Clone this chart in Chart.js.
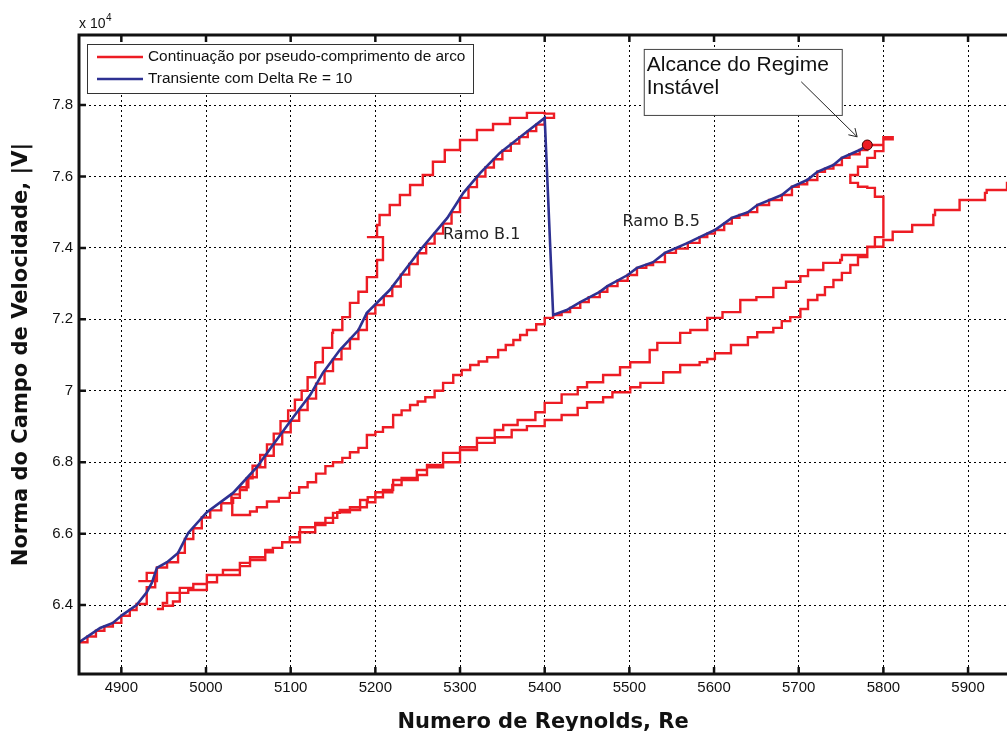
<!DOCTYPE html>
<html><head><meta charset="utf-8">
<script src="https://cdn.jsdelivr.net/npm/chart.js@4.4.0/dist/chart.umd.min.js"></script>
<style>html,body{margin:0;padding:0;background:#fff;}canvas{display:block;}</style>
</head><body>
<canvas id="c" width="1007" height="731"></canvas>
<script>
// ---------- DATA (Re, |V| x 10^4) ----------
const xTicks = [4900,5000,5100,5200,5300,5400,5500,5600,5700,5800,5900];
const yTicks = [6.4,6.6,6.8,7.0,7.2,7.4,7.6,7.8];

// red continuation curve, in path order
const redRamoB1 = [[4850,6.296],[4860,6.312],[4870,6.328],[4880,6.340],[4890,6.350],[4900,6.370],[4910,6.386],[4918,6.403],[4930,6.450],[4940,6.490],[4930,6.490],[4930,6.467],[4920,6.467],[4942,6.505],[4954,6.520],[4967,6.546],[4975,6.585],[4985,6.615],[4995,6.645],[5005,6.665],[5018,6.685],[5030,6.710],[5040,6.730],[5050,6.758],[5060,6.786],[5070,6.818],[5080,6.850],[5090,6.884],[5100,6.916],[5110,6.946],[5120,6.978],[5130,7.020],[5140,7.055],[5150,7.088],[5160,7.118],[5170,7.145],[5180,7.170],[5190,7.216],[5200,7.240],[5210,7.265],[5220,7.292],[5230,7.325],[5240,7.355],[5250,7.385],[5260,7.412],[5270,7.440],[5280,7.468],[5290,7.500],[5300,7.540],[5310,7.570],[5320,7.600],[5330,7.625],[5340,7.648],[5350,7.672],[5360,7.692],[5370,7.710],[5380,7.727],[5390,7.745],[5400,7.764]];
const redTurnB1 = [[5411,7.776],[5400,7.778]];
const redUpper = [[5379,7.764],[5359,7.747],[5339,7.730],[5320,7.702],[5300,7.674],[5282,7.641],[5268,7.604],[5256,7.576],[5241,7.548],[5229,7.520],[5217,7.492],[5205,7.464],[5202,7.430],[5190,7.430],[5209,7.400],[5209,7.366],[5202,7.358],[5202,7.318],[5190,7.310],[5190,7.277],[5180,7.274],[5180,7.246],[5170,7.234],[5170,7.206],[5161,7.192],[5161,7.170],[5150,7.162],[5149,7.120],[5138,7.114],[5138,7.080],[5130,7.078],[5129,7.038],[5120,7.000],[5113,6.975],[5105,6.945],[5097,6.915],[5088,6.880],[5080,6.850],[5072,6.820],[5064,6.790],[5055,6.755],[5048,6.722],[5040,6.700],[5032,6.686],[5031,6.652]];
const redMiddle = [[5050,6.652],[5052,6.662],[5060,6.674],[5072,6.690],[5086,6.700],[5099,6.714],[5110,6.730],[5120,6.744],[5130,6.768],[5141,6.789],[5150,6.800],[5161,6.812],[5170,6.828],[5180,6.840],[5190,6.876],[5200,6.885],[5209,6.898],[5221,6.932],[5231,6.945],[5241,6.960],[5250,6.970],[5259,6.982],[5270,7.000],[5280,7.022],[5292,7.044],[5302,7.058],[5312,7.072],[5322,7.082],[5332,7.094],[5345,7.114],[5354,7.128],[5363,7.142],[5371,7.156],[5379,7.170],[5390,7.186],[5400,7.204]];
const redRamoB5 = [[5410,7.212],[5420,7.220],[5430,7.232],[5442,7.248],[5452,7.262],[5465,7.277],[5474,7.293],[5486,7.308],[5498,7.324],[5509,7.344],[5520,7.352],[5528,7.360],[5542,7.386],[5555,7.398],[5569,7.414],[5583,7.430],[5592,7.440],[5601,7.450],[5612,7.468],[5621,7.484],[5630,7.492],[5640,7.500],[5651,7.520],[5665,7.534],[5680,7.548],[5692,7.571],[5700,7.578],[5710,7.590],[5722,7.613],[5731,7.622],[5741,7.632],[5751,7.652],[5760,7.662],[5772,7.674],[5781,7.688]];
const redTurnB5 = [[5800,7.702],[5800,7.710],[5811,7.710],[5811,7.704],[5800,7.694],[5800,7.671],[5790,7.669],[5790,7.652],[5781,7.649],[5781,7.627],[5770,7.624],[5770,7.604],[5761,7.599],[5761,7.582],[5769,7.582],[5770,7.571],[5781,7.568],[5790,7.543],[5800,7.534],[5800,7.430]];
const redLowerBack = [[5790,7.402],[5781,7.374],[5770,7.352],[5761,7.330],[5751,7.310],[5741,7.290],[5731,7.268],[5722,7.254],[5711,7.229],[5702,7.206],[5690,7.195],[5680,7.176],[5670,7.164],[5651,7.150],[5640,7.128],[5620,7.105],[5601,7.089],[5592,7.080],[5583,7.072],[5560,7.052],[5540,7.022],[5513,7.010],[5501,6.996],[5480,6.982],[5469,6.968],[5450,6.952],[5439,6.932],[5420,6.918],[5400,6.901],[5379,6.890],[5361,6.870],[5341,6.854],[5320,6.834],[5300,6.800],[5280,6.786],[5261,6.764],[5250,6.750],[5221,6.722],[5209,6.702],[5200,6.688],[5190,6.674],[5170,6.660],[5155,6.644],[5141,6.624],[5129,6.604],[5110,6.590],[5099,6.576],[5090,6.560],[5079,6.554],[5070,6.534],[5052,6.509],[5040,6.498],[5020,6.484],[5001,6.459],[4985,6.448],[4969,6.434],[4954,6.406],[4949,6.389],[4942,6.389]];
const redLowerFwd = [[4949,6.398],[4961,6.410],[4969,6.434],[4979,6.442],[5001,6.464],[5013,6.484],[5040,6.518],[5052,6.526],[5070,6.548],[5079,6.560],[5090,6.576],[5111,6.604],[5111,6.618],[5129,6.630],[5150,6.658],[5158,6.666],[5182,6.694],[5191,6.702],[5200,6.716],[5220,6.736],[5231,6.756],[5249,6.778],[5261,6.792],[5280,6.826],[5300,6.842],[5320,6.868],[5341,6.890],[5351,6.904],[5368,6.918],[5389,6.940],[5400,6.966],[5420,6.990],[5439,7.010],[5450,7.024],[5469,7.044],[5489,7.066],[5501,7.080],[5524,7.114],[5533,7.134],[5560,7.162],[5572,7.170],[5592,7.204],[5610,7.220],[5631,7.254],[5650,7.262],[5670,7.288],[5685,7.305],[5702,7.321],[5711,7.338],[5729,7.358],[5749,7.366],[5751,7.380],[5781,7.403],[5800,7.422],[5811,7.445],[5822,7.445],[5834,7.464],[5859,7.492],[5861,7.506],[5890,7.534],[5920,7.554],[5922,7.562],[5946,7.585]];

// blue transient curve
const blueRamoB1 = [[4850,6.296],[4859,6.310],[4875,6.336],[4890,6.350],[4901,6.372],[4918,6.400],[4930,6.436],[4936,6.462],[4942,6.504],[4954,6.520],[4967,6.546],[4979,6.602],[5001,6.660],[5032,6.714],[5060,6.786],[5079,6.848],[5103,6.926],[5123,6.988],[5138,7.050],[5158,7.114],[5180,7.170],[5190,7.218],[5217,7.282],[5253,7.394],[5285,7.484],[5304,7.554],[5324,7.610],[5347,7.666],[5379,7.725],[5400,7.764]];
const blueRamoB5 = [[5410,7.212],[5426,7.226],[5442,7.248],[5465,7.277],[5474,7.293],[5498,7.324],[5509,7.344],[5528,7.360],[5542,7.386],[5569,7.414],[5583,7.430],[5601,7.450],[5621,7.484],[5640,7.500],[5651,7.520],[5680,7.548],[5692,7.571],[5710,7.590],[5722,7.613],[5741,7.632],[5751,7.652],[5772,7.674],[5781,7.688]];

const limitPoint = [5781, 7.688];

const seriesNames = ['Continuação por pseudo-comprimento de arco', 'Transiente com Delta Re = 10'];
const annotationText = ['Alcance do Regime', 'Instável'];
const branchLabels = [{text:'Ramo B.1', re:5280, v:7.436}, {text:'Ramo B.5', re:5492, v:7.473}];
const arrowFrom = [5703, 7.865], arrowTo = [5769, 7.711];
const boxAnchor = [5517, 7.957];

const xLimits = [4850, 5946];
const yLimits = [6.207, 7.996];

// ---------- build ----------
const toPts = a => a.map(p => ({x:p[0], y:p[1]}));
const redPath = [].concat(redRamoB1, redTurnB1, redUpper, redMiddle, redRamoB5, redTurnB5, redLowerBack, redLowerFwd);
const bluePath = [].concat(blueRamoB1, blueRamoB5);

const RED = 'rgb(237,28,36)', BLUE = 'rgb(46,49,146)';
const FONT = "'Liberation Sans', Arial, sans-serif";
const TITLE_FONT = "'DejaVu Sans', 'Liberation Sans', sans-serif";

const overlayPlugin = {
  id: 'overlay',
  afterDatasetsDraw(chart) {
    const {ctx, chartArea: ca, scales: {x, y}} = chart;
    ctx.save();
    // legend box
    const lx = ca.left + 8, ly = ca.top + 9, lw = 386, lh = 49;
    ctx.fillStyle = '#fff'; ctx.fillRect(lx, ly, lw, lh);
    ctx.strokeStyle = '#333'; ctx.lineWidth = 1; ctx.strokeRect(lx + 0.5, ly + 0.5, lw, lh);
    const cols = [RED, BLUE];
    ctx.font = '15.4px ' + FONT; ctx.textBaseline = 'middle'; ctx.textAlign = 'left';
    seriesNames.forEach((n, i) => {
      const yy = ly + 13 + i * 22;
      ctx.strokeStyle = cols[i]; ctx.lineWidth = 2.5;
      ctx.beginPath(); ctx.moveTo(lx + 10, yy); ctx.lineTo(lx + 56, yy); ctx.stroke();
      ctx.fillStyle = '#111'; ctx.fillText(n, lx + 61, yy);
    });
    // branch labels
    ctx.font = '16px "DejaVu Sans", sans-serif'; ctx.fillStyle = '#222';
    branchLabels.forEach(b => ctx.fillText(b.text, x.getPixelForValue(b.re), y.getPixelForValue(b.v)));
    // annotation box
    const bx = x.getPixelForValue(boxAnchor[0]), by = y.getPixelForValue(boxAnchor[1]);
    ctx.fillStyle = '#fff'; ctx.fillRect(bx, by, 198, 66);
    ctx.strokeStyle = '#444'; ctx.lineWidth = 1; ctx.strokeRect(bx + 0.5, by + 0.5, 198, 66);
    ctx.fillStyle = '#111'; ctx.font = '21px ' + FONT; ctx.textBaseline = 'alphabetic';
    annotationText.forEach((t, i) => ctx.fillText(t, bx + 3, by + 22 + i * 23));
    // arrow
    const ax0 = x.getPixelForValue(arrowFrom[0]), ay0 = y.getPixelForValue(arrowFrom[1]);
    const ax1 = x.getPixelForValue(arrowTo[0]), ay1 = y.getPixelForValue(arrowTo[1]);
    ctx.strokeStyle = '#222'; ctx.lineWidth = 1;
    ctx.beginPath(); ctx.moveTo(ax0, ay0); ctx.lineTo(ax1, ay1);
    const ang = Math.atan2(ay1 - ay0, ax1 - ax0);
    [0.55, -0.55].forEach(d => { ctx.moveTo(ax1, ay1); ctx.lineTo(ax1 - 9 * Math.cos(ang + d), ay1 - 9 * Math.sin(ang + d)); });
    ctx.stroke();
    ctx.restore();
  },
  afterDraw(chart) {
    const {ctx, chartArea: {left, top, right, bottom}, scales: {x, y}} = chart;
    ctx.save();
    ctx.strokeStyle = '#111'; ctx.lineWidth = 3;
    ctx.beginPath(); ctx.moveTo(right, top); ctx.lineTo(left, top); ctx.lineTo(left, bottom); ctx.lineTo(right, bottom); ctx.stroke();
    ctx.lineWidth = 2.5; ctx.beginPath();
    x.ticks.forEach(t => { const p = x.getPixelForValue(t.value); ctx.moveTo(p, bottom); ctx.lineTo(p, bottom - 7); ctx.moveTo(p, top); ctx.lineTo(p, top + 7); });
    y.ticks.forEach(t => { const p = y.getPixelForValue(t.value); ctx.moveTo(left, p); ctx.lineTo(left + 7, p); });
    ctx.stroke();
    // exponent
    ctx.fillStyle = '#111'; ctx.font = '14px ' + FONT; ctx.textAlign = 'left'; ctx.textBaseline = 'alphabetic';
    ctx.fillText('x 10', left, top - 7);
    ctx.font = '10px ' + FONT; ctx.fillText('4', left + 27, top - 14);
    ctx.restore();
  }
};

new Chart(document.getElementById('c'), {
  type: 'scatter',
  data: {
    datasets: [
      {label: 'limit', data: toPts([limitPoint]), pointRadius: 5, pointBackgroundColor: RED, pointBorderColor: '#400', pointBorderWidth: 1, showLine: false, order: 0},
      {label: seriesNames[1], data: toPts(bluePath), showLine: true, borderColor: BLUE, borderWidth: 2.6, pointRadius: 0, tension: 0, order: 1},
      {label: seriesNames[0], data: toPts(redPath), showLine: true, stepped: 'before', borderColor: RED, borderWidth: 2.4, pointRadius: 0, tension: 0, order: 2}
    ]
  },
  options: {
    responsive: false, animation: false,
    layout: {autoPadding: false, padding: {top: 35, right: 0, bottom: 0, left: 0}},
    plugins: {legend: {display: false}, tooltip: {enabled: false}},
    scales: {
      x: {
        type: 'linear', min: xLimits[0], max: xLimits[1],
        afterBuildTicks: s => { s.ticks = xTicks.map(v => ({value: v})); },
        afterFit: s => { s.height = 57; s.paddingLeft = 0; s.paddingRight = 0; },
        ticks: {callback: v => String(v), font: {family: FONT, size: 15}, color: '#111', padding: 5, maxRotation: 0, autoSkip: false},
        grid: {color: '#000', lineWidth: 1, drawTicks: false},
        border: {display: false, dash: [2, 3]},
        title: {display: true, text: 'Numero de Reynolds, Re', font: {family: TITLE_FONT, size: 21, weight: 'bold', lineHeight: 0.82}, color: '#111', padding: 0}
      },
      y: {
        type: 'linear', min: yLimits[0], max: yLimits[1],
        afterBuildTicks: s => { s.ticks = yTicks.map(v => ({value: v})); },
        afterFit: s => { s.width = 79; s.paddingTop = 0; s.paddingBottom = 0; },
        ticks: {callback: v => String(Math.round(v * 10) / 10), font: {family: FONT, size: 15}, color: '#111', padding: 6, autoSkip: false},
        grid: {color: '#000', lineWidth: 1, drawTicks: false},
        border: {display: false, dash: [2, 3]},
        title: {display: true, text: 'Norma do Campo de Velocidade, |V|', font: {family: TITLE_FONT, size: 21, weight: 'bold'}, color: '#111', padding: {top: 9, bottom: 0}}
      }
    }
  },
  plugins: [overlayPlugin]
});
</script>
</body></html>
